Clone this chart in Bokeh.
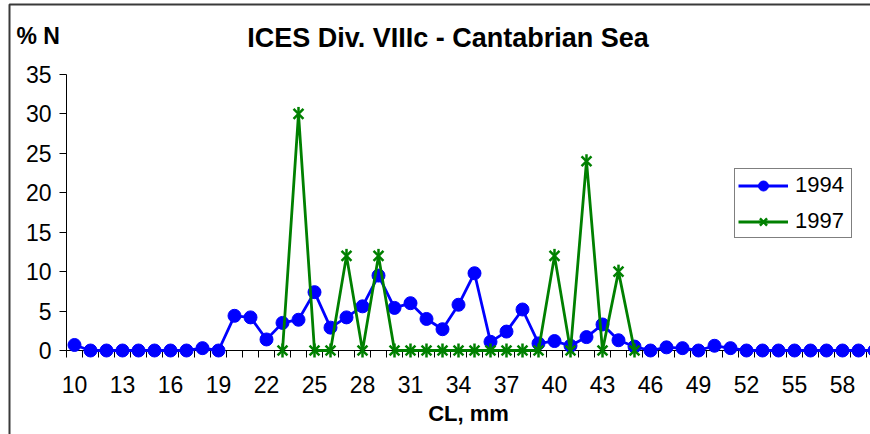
import numpy as np
from bokeh.plotting import figure
from bokeh.models import FixedTicker, Range1d, Legend, LegendItem, ColumnDataSource
from bokeh.core.properties import value
from bokeh.embed import file_html
from bokeh.resources import INLINE

# ---- data ----
cl_1994 = list(range(10, 61))
pct_1994 = [0.7, 0, 0, 0, 0, 0, 0, 0, 0.3, 0,
            4.4, 4.2, 1.4, 3.5, 3.9, 7.4, 2.9, 4.2, 5.6, 9.5,
            5.4, 6.0, 4.0, 2.7, 5.8, 9.8, 1.1, 2.4, 5.2, 0.9,
            1.2, 0.6, 1.7, 3.3, 1.3, 0.5, 0, 0.4, 0.3, 0,
            0.6, 0.3, 0, 0, 0, 0, 0, 0, 0, 0, 0]
cl_1997 = list(range(23, 46))
pct_1997 = [0, 30, 0, 0, 12, 0, 12, 0,
            0, 0, 0, 0, 0, 0, 0, 0, 0,
            12, 0, 24, 0, 10, 0]
x_tick_labels = list(range(10, 59, 3))
y_ticks = [0, 5, 10, 15, 20, 25, 30, 35]
title_text = "ICES Div. VIIIc - Cantabrian Sea"
y_title = "% N"
x_title = "CL, mm"

FONT = "Liberation Sans"
BLUE = "#0000FF"
GREEN = "#008000"

W, H = 870, 434
FL, FR, FT, FB = 66, 870, 74, 350          # frame edges in canvas pixels
X0, X1, Y0, Y1 = 9.5, 59.75, 0, 35


def px_x(px):
    return X0 + (px - FL) * (X1 - X0) / (FR - FL)


def px_y(py):
    return Y0 + (FB - py) * (Y1 - Y0) / (FB - FT)


src94 = ColumnDataSource(dict(x=cl_1994, y=pct_1994))
src97 = ColumnDataSource(dict(x=cl_1997, y=pct_1997))

p = figure(width=W, height=H, output_backend="svg", toolbar_location=None,
           x_range=Range1d(X0, X1), y_range=Range1d(Y0, Y1),
           min_border_left=FL, min_border_right=W - FR,
           min_border_top=FT, min_border_bottom=H - FB)
p.outline_line_color = None
p.grid.visible = False
p.background_fill_color = "white"
p.border_fill_color = "white"

# x axis
p.xaxis.ticker = FixedTicker(ticks=x_tick_labels,
                             minor_ticks=[c - 0.5 for c in range(10, 62)])
p.xaxis.major_tick_out = 0
p.xaxis.major_tick_in = 0
p.xaxis.minor_tick_out = 7
p.xaxis.minor_tick_in = 0
p.xaxis.minor_tick_line_color = "black"
p.xaxis.axis_line_color = "black"
p.xaxis.major_label_text_font = FONT
p.xaxis.major_label_text_font_size = "23px"
p.xaxis.major_label_text_color = "black"
p.xaxis.major_label_standoff = 18
p.xaxis.axis_label = x_title
p.xaxis.axis_label_text_font = FONT
p.xaxis.axis_label_text_font_size = "22px"
p.xaxis.axis_label_text_font_style = "bold"
p.xaxis.axis_label_text_color = "black"
p.xaxis.axis_label_standoff = 5

# y axis
p.yaxis.ticker = FixedTicker(ticks=y_ticks)
p.yaxis.major_tick_out = 7
p.yaxis.major_tick_in = 0
p.yaxis.minor_tick_line_color = None
p.yaxis.axis_line_color = "black"
p.yaxis.major_tick_line_color = "black"
p.yaxis.major_label_text_font = FONT
p.yaxis.major_label_text_font_size = "23px"
p.yaxis.major_label_text_color = "black"
p.yaxis.major_label_standoff = 8

# series
l94 = p.line("x", "y", source=src94, line_color=BLUE, line_width=2.8, level="overlay")
m94 = p.scatter("x", "y", source=src94, marker="circle", size=13,
                fill_color=BLUE, line_color=BLUE, level="overlay")
l97 = p.line("x", "y", source=src97, line_color=GREEN, line_width=2.8, level="overlay")
mx97 = p.scatter("x", "y", source=src97, marker="x", size=14,
                 line_color=GREEN, line_width=2.5, level="overlay")
md97 = p.scatter("x", "y", source=src97, marker="dash", size=14, angle=np.pi / 2,
                 line_color=GREEN, line_width=2.5, level="overlay")

legend = Legend(items=[LegendItem(label="1994", renderers=[l94, m94]),
                       LegendItem(label="1997", renderers=[l97, mx97, md97])],
                location=(668, 112),
                label_text_font=FONT, label_text_font_size="22px",
                label_text_color="black",
                glyph_width=50, glyph_height=25, label_standoff=7,
                label_width=53, padding=3, spacing=10, margin=0,
                border_line_color="black", border_line_width=1,
                background_fill_color="white", background_fill_alpha=1.0)
p.add_layout(legend)

# titles
p.text(x=[px_x(447.5)], y=[px_y(37)], text=[title_text], text_align="center",
       text_baseline="middle", text_font=value(FONT), text_font_size="27px",
       text_font_style="bold", text_color="black", level="overlay")
p.text(x=[px_x(16)], y=[px_y(35)], text=[y_title], text_align="left",
       text_baseline="middle", text_font=value(FONT), text_font_size="23px",
       text_font_style="bold", text_color="black", level="overlay")

# chart-area border (left and top edges visible in the crop)
p.line(x=[px_x(9), px_x(9), px_x(872)], y=[px_y(440), px_y(4), px_y(4)],
       line_color="#3a3a3a", line_width=2, level="overlay")

open("out.html", "w").write(file_html(p, INLINE))
